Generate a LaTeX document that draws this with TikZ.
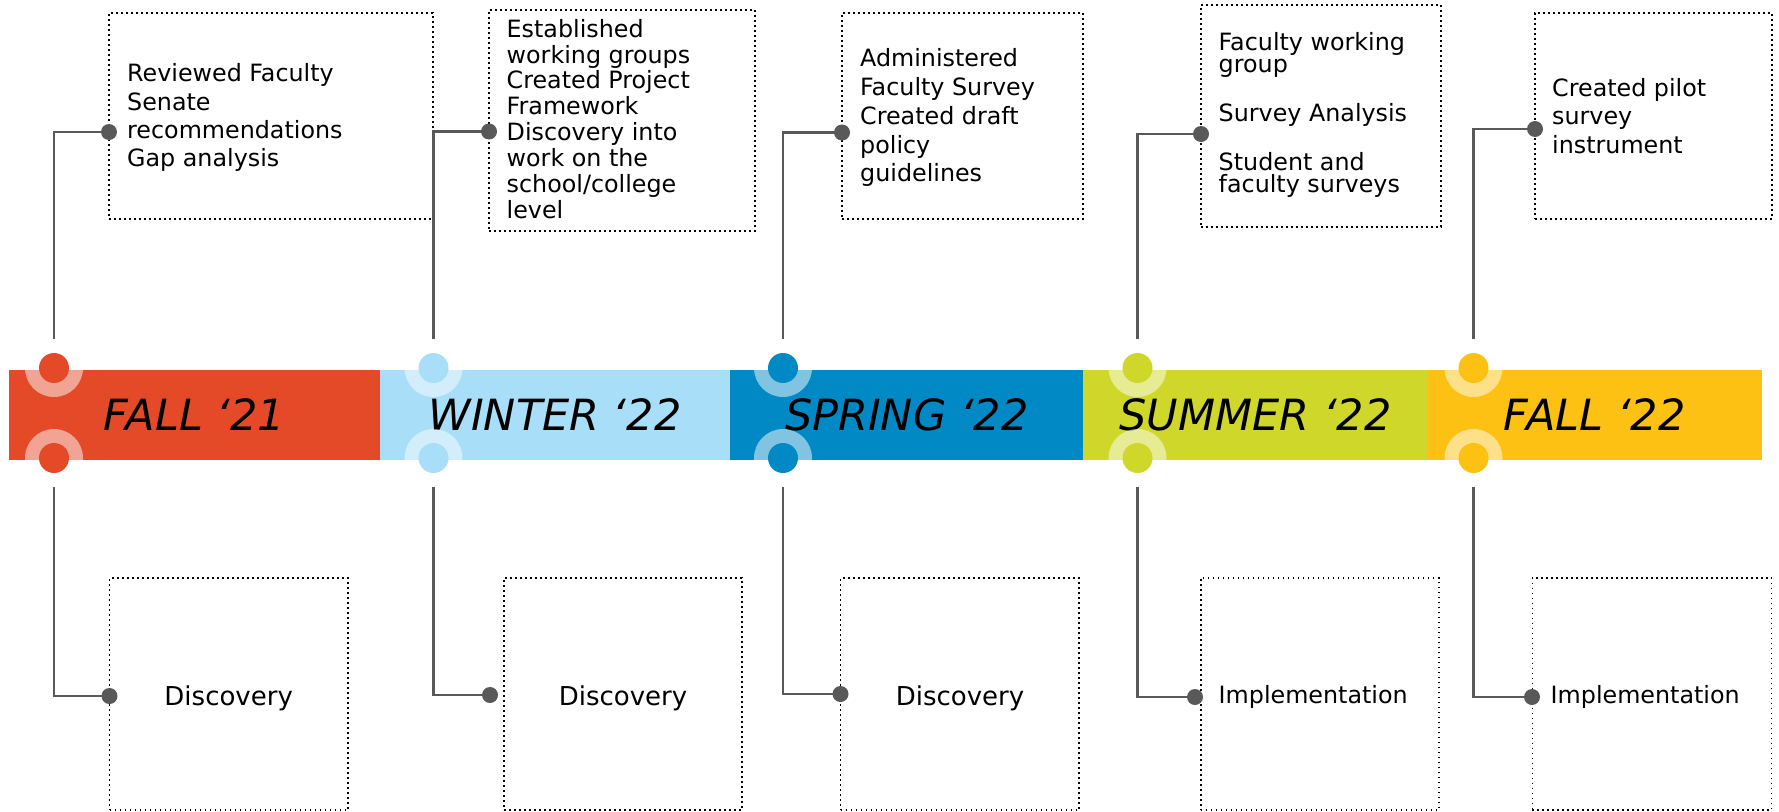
\documentclass[tikz,border=0pt]{standalone}
\usepackage{fontspec}
\setmainfont{DejaVu Sans}
\definecolor{cA}{HTML}{E44A27}
\definecolor{cB}{HTML}{A8DEF7}
\definecolor{cC}{HTML}{0089C4}
\definecolor{cD}{HTML}{CFD82A}
\definecolor{cE}{HTML}{FDC113}
\definecolor{linegray}{HTML}{595959}
\begin{document}
\begin{tikzpicture}[x=1pt,y=-1pt,
  seg/.style={rectangle, inner sep=0pt, outer sep=0pt, minimum height=90pt, text=black,
    font=\fontsize{43}{50}\selectfont\itshape},
  ring/.style={circle, fill=white, fill opacity=0.5, minimum size=58pt, inner sep=0pt, outer sep=0pt},
  knob/.style={circle, minimum size=30pt, inner sep=0pt, outer sep=0pt},
  pin/.style={circle, fill=linegray, minimum size=16pt, inner sep=0pt, outer sep=0pt},
  conn/.style={draw=linegray, line width=2.3pt},
  dotbox/.style={rectangle, draw=black, line width=1.6pt, dash pattern=on 1.6pt off 3.4pt,
    inner sep=0pt, outer sep=0pt},
  boxtxt/.style={inner sep=0pt, anchor=north west, align=left, text=black},
  bigtxt/.style={inner sep=0pt, text=black, font=\fontsize{26}{30}\selectfont},
  midtxt/.style={inner sep=0pt, text=black, font=\fontsize{23.8}{28}\selectfont}]

\useasboundingbox (0,0) rectangle (1779,811);

% timeline bar
\node[seg, fill=cA, minimum width=372pt] (sA) at (194.5,415) {FALL ‘21};
\node[seg, fill=cB, minimum width=351pt] (sB) at (555,415) {WINTER ‘22};
\node[seg, fill=cC, minimum width=354.5pt] (sC) at (906.75,415) {SPRING ‘22};
\node[seg, fill=cD, minimum width=345pt] (sD) at (1255.5,415) {SUMMER ‘22};
\node[seg, fill=cE, minimum width=334.5pt] (sE) at (1594.75,415) {FALL ‘22};

% rings
\foreach \n/\x in {A/54,B/433.5,C/783,D/1137.5,E/1473.5}{
  \node[ring] (r\n t) at (\x,368) {};
  \node[ring] (r\n b) at (\x,458) {};
}
% knobs
\node[knob, fill=cA] (kAt) at (54,368) {};
\node[knob, fill=cA] (kAb) at (54,458) {};
\node[knob, fill=cB] (kBt) at (433.5,368) {};
\node[knob, fill=cB] (kBb) at (433.5,458) {};
\node[knob, fill=cC] (kCt) at (783,368) {};
\node[knob, fill=cC] (kCb) at (783,458) {};
\node[knob, fill=cD] (kDt) at (1137.5,368) {};
\node[knob, fill=cD] (kDb) at (1137.5,458) {};
\node[knob, fill=cE] (kEt) at (1473.5,368) {};
\node[knob, fill=cE] (kEb) at (1473.5,458) {};

% boxes top
\node[dotbox, minimum width=324pt, minimum height=206pt] (bAt) at (271,116) {};
\node[dotbox, minimum width=266pt, minimum height=221pt] (bBt) at (622,120.5) {};
\node[dotbox, minimum width=241pt, minimum height=206pt] (bCt) at (962.5,116) {};
\node[dotbox, minimum width=240pt, minimum height=222pt] (bDt) at (1321,116) {};
\node[dotbox, minimum width=237pt, minimum height=206pt] (bEt) at (1653.5,116) {};
% boxes bottom
\node[dotbox, minimum width=238.5pt, minimum height=232pt] (bAb) at (228.75,694) {};
\node[dotbox, minimum width=238pt, minimum height=232pt] (bBb) at (623,694) {};
\node[dotbox, minimum width=238.5pt, minimum height=232pt] (bCb) at (959.75,694) {};
\node[dotbox, minimum width=238.3pt, minimum height=232pt] (bDb) at (1319.85,694) {};
\node[dotbox, minimum width=239.2pt, minimum height=232pt] (bEb) at (1651.9,694) {};

% pins
\node[pin] (pAt) at (109,132) {};
\node[pin] (pBt) at (489,131.5) {};
\node[pin] (pCt) at (842,132.5) {};
\node[pin] (pDt) at (1201,134) {};
\node[pin] (pEt) at (1535,129) {};
\node[pin] (pAb) at (109.5,696) {};
\node[pin] (pBb) at (490,695) {};
\node[pin] (pCb) at (840.5,694) {};
\node[pin] (pDb) at (1195,697) {};
\node[pin] (pEb) at (1532,697) {};

% connectors
\foreach \n in {A,B,C,D,E}{
  \draw[conn] (r\n t.north) |- (p\n t.center);
  \draw[conn] (r\n b.south) |- (p\n b.center);
}

% top texts
\node[boxtxt, font=\fontsize{23.8}{28.3}\selectfont] (tA) at (127,63.6)
  {Reviewed Faculty\\Senate\\recommendations\\Gap analysis};
\node[boxtxt, font=\fontsize{23.8}{25.9}\selectfont] (tB) at (506.5,18.9)
  {Established\\working groups\\Created Project\\Framework\\Discovery into\\work on the\\school/college\\level};
\node[boxtxt, font=\fontsize{23.8}{28.75}\selectfont] (tC) at (860,48.6)
  {Administered\\Faculty Survey\\Created draft\\policy\\guidelines};
\node[boxtxt, font=\fontsize{23.8}{21.5}\selectfont] (tD) at (1218.5,32.6)
  {Faculty working\\group\\[25.1pt]Survey Analysis\\[25.2pt]Student and\\faculty surveys};
\node[boxtxt, font=\fontsize{23.8}{28.7}\selectfont] (tE) at (1552,77.9)
  {Created pilot\\survey\\instrument};

% bottom texts
\node[bigtxt, anchor=base] (uA) at (228.7,705) {Discovery};
\node[bigtxt, anchor=base] (uB) at (623,705) {Discovery};
\node[bigtxt, anchor=base] (uC) at (960,705) {Discovery};
\node[midtxt, anchor=base west] (uD) at (1218.5,703) {Implementation};
\node[midtxt, anchor=base west] (uE) at (1550.5,703) {Implementation};
\end{tikzpicture}
\end{document}
